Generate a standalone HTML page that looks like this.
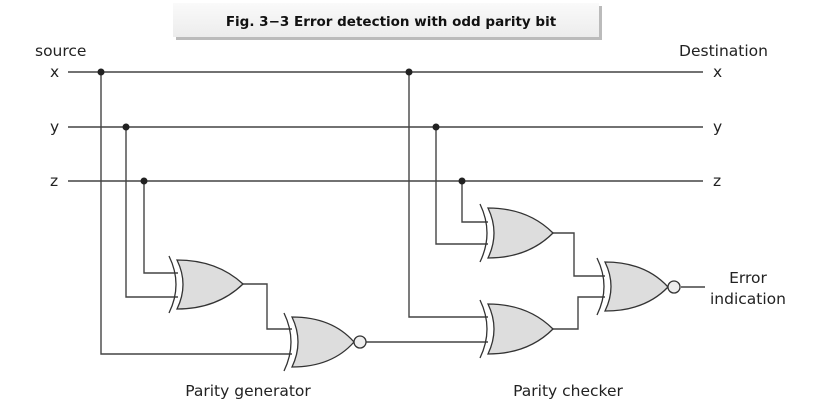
<!DOCTYPE html>
<html><head><style>
html,body{margin:0;padding:0;background:#fff;}
svg{display:block;font-family:"DejaVu Sans","Liberation Sans",sans-serif;}
</style></head><body>
<svg width="821" height="412" viewBox="0 0 821 412">
<defs>
<linearGradient id="tg" x1="0" y1="0" x2="0" y2="1"><stop offset="0" stop-color="#fafafa"/><stop offset="1" stop-color="#ececec"/></linearGradient>
</defs>
<rect x="176" y="6" width="426" height="34" fill="#bbb"/>
<rect x="173" y="3" width="426" height="34" fill="url(#tg)"/>
<text x="391" y="26" font-size="13.5" font-weight="bold" text-anchor="middle" fill="#111">Fig. 3−3  Error detection with odd parity bit</text>
<g font-size="15.5" fill="#222">
<text x="35" y="56">source</text>
<text x="768" y="56" text-anchor="end">Destination</text>
<text x="50" y="77">x</text><text x="50" y="132">y</text><text x="50" y="186">z</text>
<text x="713" y="77">x</text><text x="713" y="132">y</text><text x="713" y="186">z</text>
<text x="748" y="283" text-anchor="middle">Error</text>
<text x="748" y="304" text-anchor="middle">indication</text>
<text x="248" y="396" text-anchor="middle">Parity generator</text>
<text x="568" y="396" text-anchor="middle">Parity checker</text>
</g>
<g stroke="#444" stroke-width="1.4" fill="none">
<line x1="68" y1="72" x2="703" y2="72"/>
<line x1="68" y1="127" x2="703" y2="127"/>
<line x1="68" y1="181" x2="703" y2="181"/>
<polyline points="101,72 101,354 292,354"/>
<polyline points="126,127 126,297 178,297"/>
<polyline points="144,181 144,273 178,273"/>
<polyline points="243,284 267,284 267,329 292,329"/>
<polyline points="366,342 488,342"/>
<polyline points="409,72 409,317 488,317"/>
<polyline points="436,127 436,244 488,244"/>
<polyline points="462,181 462,222 488,222"/>
<polyline points="553,233 574,233 574,276 605,276"/>
<polyline points="553,329 578,329 578,297 605,297"/>
<line x1="681" y1="287" x2="705" y2="287"/>
</g>
<g fill="#222">
<circle cx="101" cy="72" r="3.5"/><circle cx="126" cy="127" r="3.5"/><circle cx="144" cy="181" r="3.5"/>
<circle cx="409" cy="72" r="3.5"/><circle cx="436" cy="127" r="3.5"/><circle cx="462" cy="181" r="3.5"/>
</g>
<g stroke="#333" stroke-width="1.3">
<g transform="translate(177,260)">
<path d="M0,0 Q40,0 66,24 Q40,49 0,49 Q12,24.5 0,0Z" fill="#ddd"/>
<path d="M-8,-4 Q6,24.5 -8,53" fill="none"/>
</g>
<g transform="translate(292,317)">
<path d="M0,0 Q40,0 62,25 Q40,50 0,50 Q12,25 0,0Z" fill="#ddd"/>
<path d="M-8,-4 Q6,25 -8,54" fill="none"/>
<circle cx="68" cy="25" r="6" fill="#eee"/>
</g>
<g transform="translate(488,208)">
<path d="M0,0 Q40,0 65,25 Q40,50 0,50 Q12,25 0,0Z" fill="#ddd"/>
<path d="M-8,-4 Q6,25 -8,54" fill="none"/>
</g>
<g transform="translate(488,304)">
<path d="M0,0 Q40,0 65,25 Q40,50 0,50 Q12,25 0,0Z" fill="#ddd"/>
<path d="M-8,-4 Q6,25 -8,54" fill="none"/>
</g>
<g transform="translate(605,262)">
<path d="M0,0 Q40,0 63,25 Q40,49 0,49 Q12,24.5 0,0Z" fill="#ddd"/>
<path d="M-8,-4 Q6,24.5 -8,53" fill="none"/>
<circle cx="69" cy="25" r="6" fill="#eee"/>
</g>
</g>
</svg>
</body></html>
